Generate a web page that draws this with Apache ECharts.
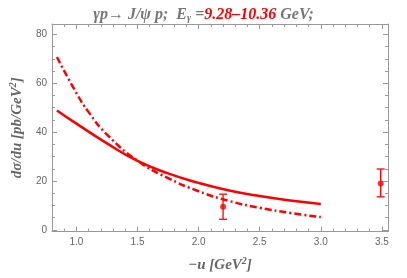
<!DOCTYPE html>
<html><head><meta charset="utf-8">
<script src="https://cdn.jsdelivr.net/npm/echarts@6/dist/echarts.min.js"></script>
<style>html,body{margin:0;padding:0;background:#fff}#c{width:407px;height:278px}</style>
</head><body><div id="c"></div>
<script>
// data
var uSolid = [0.84, 1.0, 1.25, 1.5, 1.75, 2.0, 2.25, 2.5, 2.75, 3.0];
var vSolid = [48.9, 43.5, 35.4, 28.2, 23.1, 19.2, 16.1, 13.8, 12.0, 10.6];
var uDash = [0.84, 1.0, 1.1, 1.25, 1.5, 1.75, 2.0, 2.25, 2.5, 2.75, 3.0];
var vDash = [70.8, 56.0, 48.2, 39.0, 28.3, 21.2, 15.8, 11.8, 9.0, 6.9, 5.2];
var uPts = [2.2, 3.49];
var vPts = [9.4, 19.0];
var vLow = [4.3, 13.5];
var vHigh = [14.6, 24.9];
var xMajor = [1.0, 1.5, 2.0, 2.5, 3.0, 3.5];
var yMajor = [0, 20, 40, 60, 80];

var xMinor = [], yMinor = [];
for (var i = 8; i <= 35; i++) xMinor.push(i / 10);
for (var j = 0; j <= 80; j += 5) yMinor.push(j);

function pairs(a, b) { return a.map(function (x, k) { return [x, b[k]]; }); }

var RED = '#ff0000';
var serif = '"Liberation Serif", "DejaVu Serif", serif';
var sans = '"Liberation Sans", Arial, sans-serif';

function xAx(pos, major, labels) {
  return {
    type: 'value', position: pos, min: 0.8, max: 3.55,
    axisLine: { show: major, onZero: false, lineStyle: { color: '#999', width: 1 } },
    splitLine: { show: false },
    axisTick: { show: true, inside: true, length: major ? 5 : 3, customValues: major ? xMajor : xMinor, lineStyle: { color: '#999' } },
    axisLabel: { show: labels, customValues: xMajor, color: '#666', fontFamily: sans, fontSize: 10, margin: 6,
      formatter: function (v) { return v.toFixed(1); } },
    name: labels ? '{i|\u2212u [GeV}{s|2}{i|]}' : '',
    nameLocation: 'middle', nameGap: 25,
    nameTextStyle: { rich: {
      i: { fontFamily: serif, fontStyle: 'italic', fontWeight: 'bold', fontSize: 15, color: '#666' },
      s: { fontFamily: serif, fontStyle: 'italic', fontWeight: 'bold', fontSize: 10, color: '#666', padding: [0, 0, 8, 0] }
    } }
  };
}
function yAx(pos, major, labels) {
  return {
    type: 'value', position: pos, min: -0.7, max: 84.3,
    axisLine: { show: major, onZero: false, lineStyle: { color: '#999', width: 1 } },
    splitLine: { show: false },
    axisTick: { show: true, inside: true, length: major ? 5 : 3, customValues: major ? yMajor : yMinor, lineStyle: { color: '#999' } },
    axisLabel: { show: labels, customValues: yMajor, color: '#666', fontFamily: sans, fontSize: 10, margin: 5 },
    name: labels ? '{i|d\u03c3/du [pb/GeV}{s|2}{i|]}' : '',
    nameLocation: 'middle', nameGap: 26, nameRotate: 90,
    nameTextStyle: { rich: {
      i: { fontFamily: serif, fontStyle: 'italic', fontWeight: 'bold', fontSize: 15, color: '#666' },
      s: { fontFamily: serif, fontStyle: 'italic', fontWeight: 'bold', fontSize: 10, color: '#666', padding: [0, 0, 8, 0] }
    } }
  };
}

var chart = echarts.init(document.getElementById('c'), null, { renderer: 'canvas' });
chart.setOption({
  animation: false,
  title: {
    text: '{g|\u03b3p\u2192 J/\u03c8 p;  E}{sub|\u03b3}{g| =}{r|9.28\u201310.36}{g| GeV;}',
    left: 'center', top: 1,
    textStyle: { rich: {
      g: { fontFamily: serif, fontStyle: 'italic', fontWeight: 'bold', fontSize: 16, color: '#777' },
      sub: { fontFamily: serif, fontStyle: 'italic', fontWeight: 'bold', fontSize: 10, color: '#777', padding: [7, 0, 0, 0] },
      r: { fontFamily: serif, fontStyle: 'italic', fontWeight: 'bold', fontSize: 16, color: RED }
    } }
  },
  grid: { left: 41, right: 19, top: 24, bottom: 42 },
  xAxis: [xAx('bottom', true, true), xAx('bottom', false, false), xAx('top', true, false), xAx('top', false, false)],
  yAxis: [yAx('left', true, true), yAx('left', false, false), yAx('right', true, false), yAx('right', false, false)],
  series: [
    { type: 'line', data: pairs(uSolid, vSolid), smooth: 0.5, showSymbol: false,
      lineStyle: { color: RED, width: 2.5 } },
    { type: 'line', data: pairs(uDash, vDash), smooth: 0.5, showSymbol: false,
      lineStyle: { color: RED, width: 2.5, type: [7, 3, 2, 3] } },
    { type: 'custom', data: uPts.map(function (u, k) { return [u, vLow[k], vHigh[k]]; }),
      renderItem: function (params, api) {
        var lo = api.coord([api.value(0), api.value(1)]);
        var hi = api.coord([api.value(0), api.value(2)]);
        var w = 4;
        var st = { stroke: RED, lineWidth: 1.3 };
        return { type: 'group', children: [
          { type: 'line', shape: { x1: lo[0], y1: lo[1], x2: hi[0], y2: hi[1] }, style: st },
          { type: 'line', shape: { x1: lo[0] - w, y1: lo[1], x2: lo[0] + w, y2: lo[1] }, style: st },
          { type: 'line', shape: { x1: hi[0] - w, y1: hi[1], x2: hi[0] + w, y2: hi[1] }, style: st }
        ] };
      } },
    { type: 'scatter', data: pairs(uPts, vPts), symbol: 'circle', symbolSize: 6,
      itemStyle: { color: RED } }
  ]
});
</script>
</body></html>
